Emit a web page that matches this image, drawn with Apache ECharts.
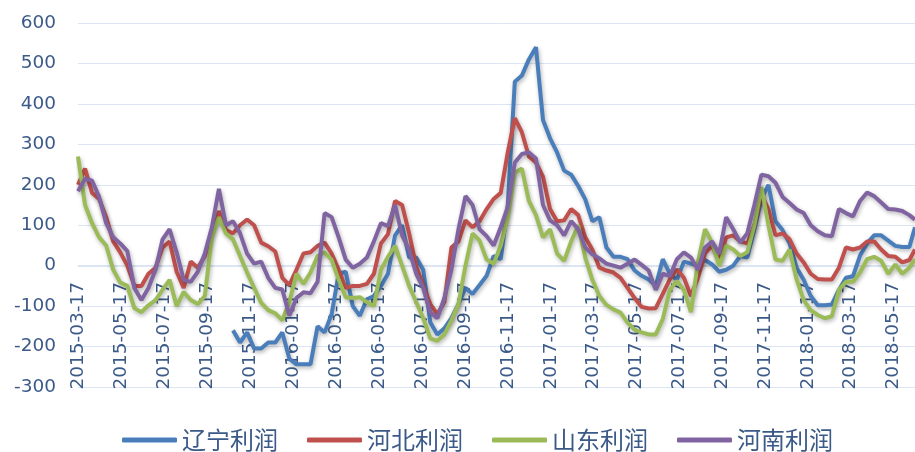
<!DOCTYPE html>
<html>
<head>
<meta charset="utf-8">
<script src="https://cdn.jsdelivr.net/npm/echarts@6/dist/echarts.min.js"></script>
<style>
  html, body { margin: 0; padding: 0; background: #fff; }
  #chart { width: 915px; height: 452px; }
</style>
</head>
<body>
<div id="chart"></div>
<script>
// categories: one per calendar day, 2015-03-17 .. 2018-06-17
const startDate = '2015-03-17'
const dayCount = 1189
// readings are taken every 10 days from the start, plus the last day
const sampleStep = 10

const seriesNames = ['辽宁利润', '河北利润', '山东利润', '河南利润']

const liaoning = [
  null, null, null, null, null, null, null, null, null, null,
  null, null, null, null, null, null, null, null, null, null,
  null, null, -160, -190, -165, -205, -205, -190, -190, -165,
  -230, -244, -244, -244, -150, -165, -120, -20, -15, -100,
  -124, -83, -75, -50, -20, 75, 100, 20, 20, -10,
  -140, -170, -155, -130, -95, -55, -70, -48, -25, 24,
  16, 150, 455, 470, 510, 540, 360, 315, 280, 235,
  225, 197, 164, 110, 120, 45, 22, 22, 16, -12,
  -25, -34, -50, 16, -20, -35, 10, 5, 0, 14,
  3, -15, -10, 0, 24, 20, 90, 165, 200, 110,
  88, 55, -5, -35, -75, -98, -98, -96, -60, -30,
  -26, 25, 55, 75, 75, 62, 49, 46, 46, 95
]

const hebei = [
  200, 240, 180, 165, 120, 60, 33, 0, -50, -50,
  -20, -5, 45, 60, -15, -55, 10, -5, 24, 85,
  135, 88, 80, 100, 114, 100, 57, 48, 35, -30,
  -48, -10, 30, 33, 49, 57, 30, -10, -55, -50,
  -50, -45, -20, 55, 78, 160, 150, 80, 0, -50,
  -95, -120, -90, 45, 60, 112, 95, 110, 140, 165,
  180, 280, 365, 330, 270, 255, 220, 140, 110, 112,
  140, 125, 70, 40, -5, -12, -17, -30, -55, -80,
  -102, -106, -105, -70, -34, -9, -30, -75, -30, 30,
  50, 10, 70, 75, 60, 55, 100, 175, 140, 75,
  80, 65, 30, 8, -20, -33, -34, -34, -5, 45,
  40, 45, 60, 60, 40, 24, 22, 8, 14, 40
]

const shandong = [
  270, 150, 105, 70, 50, -10, -42, -50, -105, -115,
  -98, -85, -60, -35, -100, -65, -85, -95, -75, 70,
  120, 80, 65, 24, -17, -55, -92, -110, -118, -135,
  -90, -20, -45, -17, 24, 33, 15, -35, -78, -80,
  -78, -90, -100, -10, 22, 49, 0, -50, -90, -130,
  -180, -186, -170, -135, -95, 0, 80, 62, 15, 5,
  50, 120, 230, 240, 160, 125, 70, 90, 30, 12,
  60, 100, 20, -35, -75, -97, -108, -116, -141, -158,
  -165, -170, -170, -132, -60, -38, -60, -115, 10, 90,
  57, 0, 50, 40, 24, 33, 100, 195, 100, 15,
  12, 40, -34, -85, -110, -122, -130, -125, -60, -40,
  -40, -17, 16, 22, 12, -20, 3, -20, -5, 16
]

const henan = [
  184, 215, 210, 170, 105, 70, 55, 36, -55, -85,
  -55, -10, 65, 90, 33, -35, -40, -15, 30, 95,
  190, 100, 110, 80, 30, 5, 10, -30, -55, -59,
  -124, -80, -66, -68, -40, 130, 120, 70, 15, -5,
  5, 20, 60, 105, 98, 150, 75, 40, -20, -55,
  -115, -130, -80, -10, 90, 172, 150, 90, 73, 50,
  95, 145, 255, 276, 280, 265, 150, 112, 100, 75,
  110, 90, 45, 28, 18, 5, 0, -5, 5, 15,
  2, -12, -60, -20, -26, 16, 33, 20, -10, 45,
  60, 30, 120, 90, 57, 80, 150, 225, 221, 205,
  170, 155, 139, 130, 100, 85, 75, 73, 140, 130,
  122, 160, 181, 172, 156, 140, 139, 135, 125, 114
]

const seriesValues = [liaoning, hebei, shandong, henan]
const colors = ['#4a7ebb', '#c0504d', '#9bbb59', '#8064a2']

const fmtDay = t => new Date(t).toISOString().slice(0, 10)
const t0 = Date.parse(startDate + 'T00:00:00Z')
const days = []
for (let i = 0; i < dayCount; i++) days.push(fmtDay(t0 + i * 86400000))

const sampleDates = []
for (let i = 0; i < dayCount - 1; i += sampleStep) sampleDates.push(days[i])
sampleDates.push(days[dayCount - 1])

const chart = echarts.init(document.getElementById('chart'))

const labelColor = '#3b5a88'
const gridColor = '#dbe5f4'

chart.setOption({
  backgroundColor: '#fff',
  animation: false,
  grid: {
    left: 78,
    right: 0,
    top: 23,
    bottom: 65,
    outerBoundsMode: 'none'
  },
  legend: {
    left: 117,
    top: 423,
    icon: 'roundRect',
    itemWidth: 55,
    itemHeight: 5,
    itemGap: 29,
    textStyle: {
      color: labelColor,
      fontSize: 24,
      fontFamily: 'Noto Sans CJK SC'
    },
    data: seriesNames
  },
  xAxis: {
    type: 'category',
    boundaryGap: false,
    data: days,
    position: 'bottom',
    // labels hang from the zero line, like the original
    offset: -121,
    axisLine: {
      onZero: false,
      lineStyle: { color: gridColor }
    },
    axisTick: { show: false },
    axisLabel: {
      rotate: 90,
      margin: 16,
      color: labelColor,
      fontSize: 18.5,
      fontFamily: 'DejaVu Sans',
      interval: (idx, val) => val.slice(8) === '17' && Number(val.slice(5, 7)) % 2 === 1
    },
    splitLine: { show: false }
  },
  yAxis: {
    type: 'value',
    min: -300,
    max: 600,
    interval: 100,
    axisLine: { show: false },
    axisTick: { show: false },
    axisLabel: {
      margin: 22,
      color: labelColor,
      fontSize: 18.5,
      fontFamily: 'DejaVu Sans'
    },
    splitLine: {
      lineStyle: { color: gridColor, width: 1 }
    }
  },
  series: seriesNames.map((name, si) => ({
    name: name,
    type: 'line',
    symbol: 'none',
    showSymbol: false,
    connectNulls: false,
    data: sampleDates.map((d, i) => [d, seriesValues[si][i]]),
    lineStyle: {
      color: colors[si],
      width: 4,
      shadowColor: 'rgba(0, 0, 0, 0.3)',
      shadowBlur: 4,
      shadowOffsetX: 1,
      shadowOffsetY: 2
    },
    itemStyle: { color: colors[si] }
  }))
})
</script>
</body>
</html>
